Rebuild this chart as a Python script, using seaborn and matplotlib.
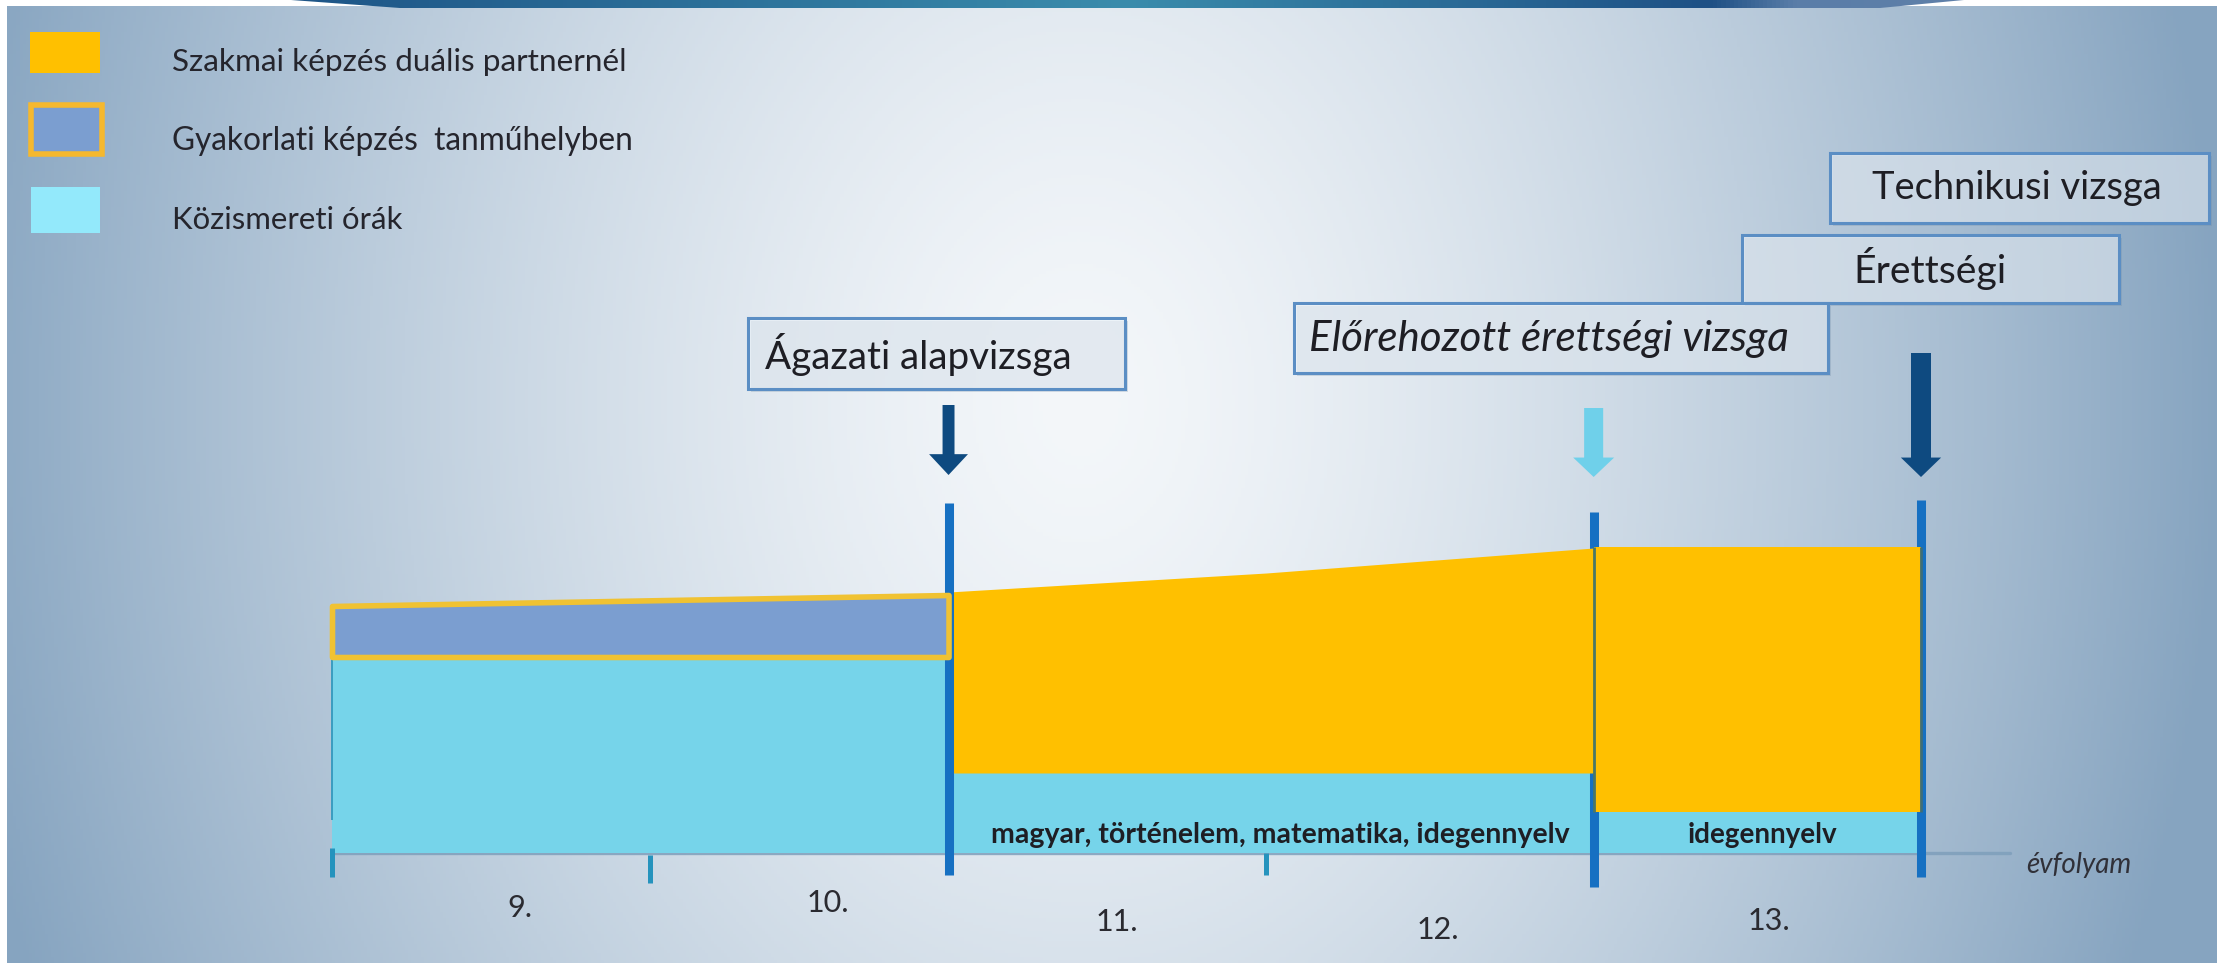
import numpy as np
import matplotlib
matplotlib.use("Agg")
import matplotlib.pyplot as plt
from matplotlib.patches import Rectangle, Polygon
import seaborn as sns

# ---------------- data ----------------
grades = ["9.", "10.", "11.", "12.", "13."]
grade_edges = [9.0, 10.0, 10.94, 11.94, 12.97, 14.0]
grade_label_x = [9.59, 10.56, 11.47, 12.48, 13.52]
grade_label_y = [-5.5, -5.0, -6.9, -7.7, -6.8]

# phase 1: 9.-10. évfolyam
phase1_x = [9.0, 10.94]
phase1_kozismeret = [19.6, 19.6]
phase1_gyakorlat = [5.1, 6.2]

# phase 2: 11.-12. évfolyam
phase2_x = [10.94, 11.94, 12.97]
phase2_kozismeret = [8.0, 8.0, 8.0]
phase2_dualis = [18.1, 20.0, 22.5]

# phase 3: 13. évfolyam
phase3_x = [12.97, 14.0]
phase3_kozismeret = [4.1, 4.1]
phase3_dualis = [26.5, 26.5]

milestone_x = [10.94, 12.97, 14.0]
milestone_line_top = [35.0, 34.1, 35.3]
milestone_line_bottom = [-2.2, -3.4, -2.4]
arrow_tail = [44.8, 44.5, 50.0]
arrow_tip = [37.8, 37.6, 37.6]
minor_tick_x = [9.0, 10.0, 11.94]
minor_tick_top = [0.5, -0.2, 0.0]
minor_tick_bottom = [-2.4, -3.0, -2.2]

legend_labels = ["Szakmai képzés duális partnernél",
                 "Gyakorlati képzés  tanműhelyben",
                 "Közismereti órák"]
exam_labels = ["Ágazati alapvizsga", "Előrehozott érettségi vizsga",
               "Érettségi", "Technikusi vizsga"]
subject_labels = ["magyar, történelem, matematika, idegennyelv", "idegennyelv"]
axis_label = "évfolyam"

# ---------------- style / layout ----------------
W, H = 2224, 963
X0_PX, PX_PER_YEAR = 332, 317.8
Y0_PX, PX_PER_UNIT = 853, 10.0

ORANGE = "#FFC000"
BAND = "#7B9ED0"
BAND_EDGE = "#F0C232"
CYAN = "#76D4EA"
CYAN_LEG = "#93E9FB"
LINE_BLUE = "#1670C2"
TICK_TEAL = "#2593BD"
NAVY = "#0E4A80"
LIGHT_ARROW = "#6FD0EA"
BOX_EDGE = "#5B8EC4"
TXT = "#1E1E24"

sns.set_theme(style="white")
plt.rcParams["font.family"] = ["Lato", "DejaVu Sans"]

fig = plt.figure(figsize=(W / 100, H / 100), dpi=100)
fig.patch.set_facecolor("white")

# background axes (pixel coordinates)
ax_bg = fig.add_axes([0, 0, 1, 1])
ax_bg.set_xlim(0, W)
ax_bg.set_ylim(H, 0)
ax_bg.set_axis_off()
ax_bg.set_zorder(0)

xs = np.linspace(0, W, 700)
ys = np.linspace(0, H, 300)
X, Y = np.meshgrid(xs, ys)
d = np.sqrt(((X - 1080) / 1150) ** 2 + ((Y - 400) / 1500) ** 2)
t = np.clip(d, 0, 1) ** 1.4
c_center = np.array([244, 247, 250]) / 255
c_edge = np.array([134, 164, 192]) / 255
img = c_center[None, None, :] * (1 - t[..., None]) + c_edge[None, None, :] * t[..., None]
ax_bg.imshow(img, extent=[7, W - 7, H, 6], aspect="auto", zorder=0)

# banner at top
gx = np.linspace(0, 1, 400)
gcol = np.stack([
    np.interp(gx, [0, 0.5, 0.85, 0.9, 1], [30, 58, 30, 90, 95]),
    np.interp(gx, [0, 0.5, 0.85, 0.9, 1], [85, 140, 80, 125, 128]),
    np.interp(gx, [0, 0.5, 0.85, 0.9, 1], [135, 172, 133, 168, 168]),
], axis=-1) / 255
banner = ax_bg.imshow(gcol[None, :, :], extent=[291, 1964, 10, 0], aspect="auto", zorder=1)
bpoly = Polygon([(291, 0), (1964, 0), (1880, 8), (400, 8)], closed=True,
                transform=ax_bg.transData, facecolor="none", edgecolor="none")
ax_bg.add_patch(bpoly)
banner.set_clip_path(bpoly)

# main data axes
ax = fig.add_axes([0, 0, 1, 1])
ax.set_zorder(1)
ax.patch.set_alpha(0)
ax.set_xlim(9.0 - X0_PX / PX_PER_YEAR, 9.0 + (W - X0_PX) / PX_PER_YEAR)
ax.set_ylim(-(H - Y0_PX) / PX_PER_UNIT, Y0_PX / PX_PER_UNIT)
ax.set_axis_off()

# axis line (évfolyam)
sns.lineplot(x=[grade_edges[0], 14.28], y=[0, 0], ax=ax, color="#7E9FBB",
             linewidth=2.4, alpha=0.85, zorder=0.5)

# phase 1
p1_top = np.add(phase1_kozismeret, phase1_gyakorlat)
ax.fill_between(phase1_x, 0, phase1_kozismeret, color=CYAN, lw=0, zorder=1)
ax.fill_between(phase1_x, phase1_kozismeret, p1_top, facecolor=BAND,
                edgecolor=BAND_EDGE, linewidth=4.0, zorder=4)
ax.vlines(phase1_x[0], 3.3, phase1_kozismeret[0], color="#3A9CC0", lw=1.4, zorder=1.5)

# phase 2
p2_top = np.add(phase2_kozismeret, phase2_dualis)
ax.fill_between(phase2_x, 0, phase2_kozismeret, color=CYAN, lw=0, zorder=1)
ax.fill_between(phase2_x, phase2_kozismeret, p2_top, color=ORANGE, lw=0, zorder=3)

# phase 3
p3_top = np.add(phase3_kozismeret, phase3_dualis)
ax.fill_between(phase3_x, 0, phase3_kozismeret, color=CYAN, lw=0, zorder=1)
ax.fill_between(phase3_x, phase3_kozismeret, p3_top, color=ORANGE, lw=0, zorder=3)

# minor ticks
for x, y1, y0 in zip(minor_tick_x, minor_tick_top, minor_tick_bottom):
    ax.vlines(x, y0, y1, color=TICK_TEAL, lw=3.6, zorder=2)

# milestone lines
line_z = [3.5, 2, 2]
for x, y1, y0, z in zip(milestone_x, milestone_line_top, milestone_line_bottom, line_z):
    ax.vlines(x, y0, y1, color=LINE_BLUE, lw=6.5, zorder=z)
# thin lines through the orange areas
ax.vlines(milestone_x[1], phase3_kozismeret[0], p3_top[0], color="#4A7768", lw=2.0, zorder=3.6)
ax.vlines(milestone_x[2], phase3_kozismeret[-1], p3_top[-1], color="#3F6E78", lw=2.0, zorder=3.6)

# arrows
arrow_cols = [NAVY, LIGHT_ARROW, NAVY]
arrow_tail_w = [8.6, 13.7, 14.4]
arrow_head_w = [28, 29.5, 29]
arrow_head_l = [15, 14, 14]
for x, y0, y1, c, tw, hw, hl in zip(milestone_x, arrow_tail, arrow_tip, arrow_cols,
                                     arrow_tail_w, arrow_head_w, arrow_head_l):
    ax.annotate("", xy=(x, y1), xytext=(x, y0),
                arrowprops=dict(arrowstyle=f"simple,head_length={hl},head_width={hw},tail_width={tw}",
                                mutation_scale=1, color=c, lw=0, shrinkA=0, shrinkB=0),
                zorder=5)

renderer = fig.canvas.get_renderer()


def fit(txt, target_w):
    w = txt.get_window_extent(renderer).width
    txt.set_fontsize(txt.get_fontsize() * target_w / w)


# subject labels inside the cyan areas (condensed bold like the original)
subj_x = [np.mean([phase2_x[0], phase2_x[-1]]) + 0.03, np.mean(phase3_x) + 0.015]
subj_w = [581, 150]
for s, x, w in zip(subject_labels, subj_x, subj_w):
    tt = ax.text(x, 1.8, s, ha="center", va="center", fontweight="bold",
                 family=["Liberation Sans Narrow", "Lato", "DejaVu Sans"],
                 fontsize=16, color=TXT, zorder=6)
    fit(tt, w)

# grade labels
for s, x, y in zip(grades, grade_label_x, grade_label_y):
    ax.text(x, y, s, ha="center", va="center", fontsize=22, color="#2A2A30", zorder=6)

# axis label
tt = ax.text(14.33, -1.2, axis_label, ha="left", va="center", fontstyle="italic",
             fontsize=13, color="#303038", zorder=6)
fit(tt, 105)

# ---------------- overlay axes (pixel coordinates) ----------------
ax_px = fig.add_axes([0, 0, 1, 1])
ax_px.set_zorder(2)
ax_px.patch.set_alpha(0)
ax_px.set_xlim(0, W)
ax_px.set_ylim(H, 0)
ax_px.set_axis_off()

# legend
leg_boxes = [(30, 32, 70, 41), (31, 105, 71, 49), (31, 187, 69, 46)]
leg_face = [ORANGE, BAND, CYAN_LEG]
leg_edge = ["none", "#F5B82E", "none"]
leg_lw = [0, 4.0, 0]
leg_text_y = [62, 141, 220]
leg_text_w = [455, 462, 230]
for (x, y, w, h), fc, ec, lw, s, ty, tw in zip(leg_boxes, leg_face, leg_edge, leg_lw,
                                                 legend_labels, leg_text_y, leg_text_w):
    ax_px.add_patch(Rectangle((x, y), w, h, facecolor=fc, edgecolor=ec, linewidth=lw))
    tt = ax_px.text(172, ty, s, ha="left", va="center", fontsize=20, color="#25252D")
    fit(tt, tw)

# exam boxes: (x0, y0, x1, y1), text left, text y, text width, italic
boxes = [
    (1830, 153, 2209, 223, 1872, 188, 290, "normal", exam_labels[3]),
    (1742, 235, 2119, 303, 1853, 268, 153, "normal", exam_labels[2]),
    (1294, 303, 1828, 373, 1309, 339, 481, "italic", exam_labels[1]),
    (748, 318, 1125, 389, 765, 354, 308, "normal", exam_labels[0]),
]
for x0, y0, x1, y1, tx, ty, tw, style, s in boxes:
    ax_px.add_patch(Rectangle((x0 + 3, y0 + 3), x1 - x0, y1 - y0, facecolor="#6F8AA3",
                              edgecolor="none", alpha=0.25))
    ax_px.add_patch(Rectangle((x0, y0), x1 - x0, y1 - y0, facecolor=(0.95, 0.97, 0.99, 0.55),
                              edgecolor=BOX_EDGE, linewidth=2.2))
    tt = ax_px.text(tx, ty, s, ha="left", va="center", fontsize=24, fontstyle=style, color=TXT)
    fit(tt, tw)

fig.savefig("out.png", dpi=100, facecolor=fig.get_facecolor())
